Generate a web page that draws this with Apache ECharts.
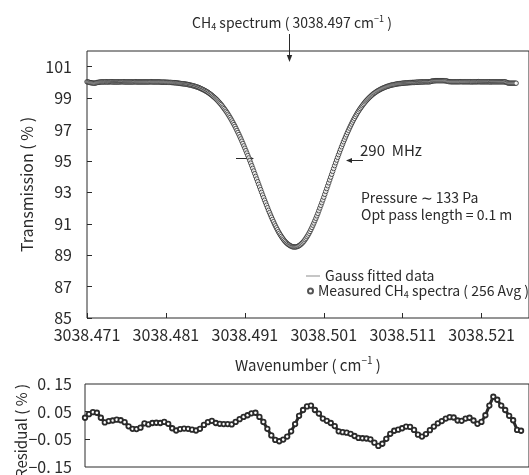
<!DOCTYPE html>
<html>
<head>
<meta charset="utf-8">
<script src="https://cdn.jsdelivr.net/npm/echarts@6/dist/echarts.min.js"></script>
<style>
  html, body { margin: 0; padding: 0; background: #fff; }
  #chart { width: 529px; height: 475px; }
</style>
</head>
<body>
<div id="chart"></div>
<script>
// CH4 absorption line near 3038.497 cm-1: measured transmission, Gaussian fit and fit residual.

// Measured transmission (%) on a 0.000125 cm-1 grid starting at 3038.4710,
// stored as three consecutive stretches: left wing, line core, right wing.
const scanStart = 3038.4710, scanStep = 0.000125;

const leftWingTransmission = [
  100.04, 100.03, 100.01, 99.99, 99.98, 99.97, 99.96, 99.95,
  99.95, 99.97, 99.99, 100.00, 100.01, 100.02, 100.03, 100.03,
  100.03, 100.03, 100.03, 100.04, 100.03, 100.03, 100.03, 100.04,
  100.04, 100.04, 100.03, 100.03, 100.03, 100.03, 100.03, 100.03,
  100.03, 100.03, 100.04, 100.04, 100.04, 100.04, 100.03, 100.03,
  100.03, 100.03, 100.03, 100.03, 100.03, 100.03, 100.03, 100.03,
  100.04, 100.04, 100.03, 100.03, 100.03, 100.03, 100.03, 100.03,
  100.03, 100.03, 100.03, 100.03, 100.03, 100.03, 100.03, 100.03,
  100.04, 100.04, 100.03, 100.03, 100.03, 100.03, 100.03, 100.03,
  100.03, 100.03, 100.03, 100.02, 100.02, 100.02, 100.02, 100.02,
  100.01, 100.01, 100.01, 100.00, 100.00, 100.00, 99.99, 99.99,
  99.98, 99.98, 99.97, 99.97, 99.96, 99.95, 99.94, 99.93
];

const lineCoreTransmission = [
  99.92, 99.915, 99.91, 99.90, 99.89, 99.88, 99.87, 99.855, 99.84, 99.825,
  99.81, 99.795, 99.78, 99.76, 99.74, 99.72, 99.70, 99.675, 99.65, 99.62,
  99.59, 99.56, 99.53, 99.495, 99.46, 99.425, 99.39, 99.345, 99.30, 99.255,
  99.21, 99.155, 99.10, 99.045, 98.99, 98.93, 98.87, 98.80, 98.73, 98.66,
  98.59, 98.505, 98.42, 98.335, 98.25, 98.16, 98.07, 97.97, 97.87, 97.765,
  97.66, 97.545, 97.43, 97.315, 97.20, 97.07, 96.94, 96.81, 96.68, 96.54,
  96.40, 96.255, 96.11, 95.96, 95.81, 95.655, 95.50, 95.345, 95.19, 95.025,
  94.86, 94.695, 94.53, 94.36, 94.19, 94.02, 93.85, 93.68, 93.51, 93.34,
  93.17, 93.00, 92.83, 92.665, 92.50, 92.34, 92.18, 92.02, 91.86, 91.71,
  91.56, 91.415, 91.27, 91.13, 90.99, 90.865, 90.74, 90.62, 90.50, 90.395,
  90.29, 90.195, 90.10, 90.015, 89.93, 89.86, 89.79, 89.735, 89.68, 89.64,
  89.60, 89.57, 89.54, 89.53, 89.52, 89.525, 89.53, 89.55, 89.57, 89.61,
  89.65, 89.705, 89.76, 89.83, 89.90, 89.99, 90.08, 90.18, 90.28, 90.395,
  90.51, 90.64, 90.77, 90.91, 91.05, 91.20, 91.35, 91.505, 91.66, 91.83,
  92.00, 92.17, 92.34, 92.515, 92.69, 92.875, 93.06, 93.24, 93.42, 93.605,
  93.79, 93.97, 94.15, 94.335, 94.52, 94.70, 94.88, 95.055, 95.23, 95.40,
  95.57, 95.735, 95.90, 96.06, 96.22, 96.37, 96.52, 96.665, 96.81, 96.95,
  97.09, 97.22, 97.35, 97.475, 97.60, 97.715, 97.83, 97.94, 98.05, 98.15,
  98.25, 98.34, 98.43, 98.515, 98.60, 98.68, 98.76, 98.83, 98.90, 98.965,
  99.03, 99.09, 99.15, 99.205, 99.26, 99.305, 99.35, 99.395, 99.44, 99.475,
  99.51, 99.545, 99.58, 99.61, 99.64, 99.665, 99.69, 99.715, 99.74, 99.76,
  99.78, 99.80, 99.82, 99.835, 99.85, 99.86, 99.87, 99.885, 99.90, 99.91,
  99.92, 99.925, 99.93, 99.94, 99.95, 99.955, 99.96, 99.965, 99.97, 99.975,
  99.98, 99.985, 99.99
];

const rightWingTransmission = [
  99.99, 100.00, 100.00,
  100.00, 100.01, 100.01, 100.02, 100.02, 100.02, 100.03, 100.03,
  100.03, 100.03, 100.04, 100.04, 100.04, 100.04, 100.04, 100.04,
  100.05, 100.07, 100.09, 100.10, 100.10, 100.11, 100.11, 100.11, 100.11, 100.11,
  100.11, 100.11, 100.11, 100.11, 100.11, 100.10, 100.10, 100.08, 100.06, 100.05,
  100.05, 100.04, 100.04, 100.04, 100.04, 100.04, 100.04, 100.04,
  100.04, 100.04, 100.04, 100.05, 100.04, 100.04, 100.04, 100.04,
  100.04, 100.04, 100.04, 100.04, 100.04, 100.04, 100.03, 100.04,
  100.04, 100.04, 100.04, 100.04, 100.04, 100.05, 100.04, 100.04,
  100.04, 100.04, 100.04, 100.04, 100.04, 100.04, 100.04, 100.04,
  100.04, 100.03, 100.04, 100.04, 100.04, 100.04, 100.04, 100.04,
  100.04, 100.04, 100.04, 100.04, 100.04, 100.04, 100.04, 100.04,
  100.03, 100.01, 99.98, 99.96, 99.95, 99.95, 99.95, 99.95, 99.95, 99.95, 99.95, 99.95
];

// Gaussian fit (%), every 0.001 cm-1 from 3038.471
const fitStart = 3038.471, fitStep = 0.001;
const fitTransmission = [
  100.02, 100.02, 100.02, 100.02, 100.02, 100.02, 100.02, 100.02, 100.01, 100.00,
  99.99, 99.97, 99.92, 99.84, 99.70, 99.46, 99.10, 98.59, 97.87, 96.94,
  95.81, 94.53, 93.17, 91.86, 90.74, 89.93, 89.54, 89.65, 90.28, 91.35,
  92.69, 94.15, 95.57, 96.81, 97.83, 98.60, 99.15, 99.51, 99.74, 99.87,
  99.95, 99.99, 100.01, 100.03, 100.03, 100.03, 100.03, 100.03, 100.03, 100.03,
  100.03, 100.03, 100.03, 100.03, 100.03
];

// Residual of the fit (%), every 0.0005 cm-1 from 3038.471
const residualStart = 3038.471, residualStep = 0.0005;
const residualValues = [
  0.028, 0.041, 0.048, 0.046, 0.028, 0.011, 0.016, 0.018, 0.021, 0.019,
  0.012, -0.003, -0.012, -0.013, -0.008, 0.008, 0.004, 0.009, 0.010, 0.009,
  0.013, 0.006, -0.010, -0.018, -0.013, -0.011, -0.012, -0.015, -0.018, -0.012,
  0.002, 0.012, 0.017, 0.009, 0.006, 0.005, 0.005, 0.004, 0.013, 0.023,
  0.031, 0.037, 0.044, 0.046, 0.031, 0.013, -0.012, -0.036, -0.052, -0.057,
  -0.051, -0.040, -0.021, 0.005, 0.035, 0.056, 0.069, 0.072, 0.056, 0.043,
  0.025, 0.017, 0.009, -0.002, -0.021, -0.024, -0.026, -0.030, -0.038, -0.045,
  -0.046, -0.047, -0.050, -0.062, -0.074, -0.066, -0.048, -0.030, -0.019, -0.015,
  -0.010, -0.004, -0.005, -0.016, -0.033, -0.040, -0.031, -0.017, -0.004, 0.008,
  0.016, 0.025, 0.030, 0.029, 0.018, 0.017, 0.025, 0.028, 0.018, 0.006,
  0.013, 0.037, 0.072, 0.104, 0.093, 0.072, 0.056, 0.035, 0.019, -0.016,
  -0.019
];

// Axis ticks
const wavenumberTicks = [3038.471, 3038.481, 3038.491, 3038.501, 3038.511, 3038.521];
const transmissionTicks = [85, 87, 89, 91, 93, 95, 97, 99, 101];
const residualTicks = [-0.15, -0.05, 0.05, 0.15];

const FONT = '"Noto Sans CJK JP", "Liberation Sans", sans-serif';
const INK = '#2a2a2a';
const FIT_NAME = 'Gauss fitted data';
const MEAS_NAME = 'Measured CH4 spectra ( 256 Avg )';

// pair each sample with its wavenumber on a regular grid
function onGrid(start, step, values) {
  return values.map((v, i) => [+(start + i * step).toFixed(6), v]);
}

const measuredData = onGrid(scanStart, scanStep,
  leftWingTransmission.concat(lineCoreTransmission, rightWingTransmission));
const fitData = onGrid(fitStart, fitStep, fitTransmission);
const residualData = onGrid(residualStart, residualStep, residualValues);

const textBase = { color: INK, fontFamily: FONT };

function richToken(size, pad) {
  return { fontSize: size, fontFamily: FONT, fill: INK, color: INK, padding: pad || [0, 0, 0, 0] };
}

const chart = echarts.init(document.getElementById('chart'), null, { renderer: 'canvas' });

chart.setOption({
  backgroundColor: '#fff',
  animation: false,
  grid: [
    { left: 87, top: 51, width: 452, height: 267, show: true, borderColor: INK, borderWidth: 1, backgroundColor: 'transparent' },
    { left: 85, top: 384, width: 452, height: 86, show: true, borderColor: INK, borderWidth: 1, backgroundColor: 'transparent' }
  ],
  xAxis: [
    {
      type: 'value', gridIndex: 0, min: 3038.471, max: 3038.527,
      axisLine: { show: false },
      splitLine: { show: false },
      axisTick: { show: true, inside: true, length: 5, customValues: wavenumberTicks, lineStyle: { color: INK } },
      axisLabel: {
        customValues: wavenumberTicks, margin: 9, fontSize: 16, ...textBase,
        formatter: v => v.toFixed(3)
      }
    },
    {
      type: 'value', gridIndex: 1, min: 3038.471, max: 3038.527,
      axisLine: { show: false }, splitLine: { show: false },
      axisTick: { show: false }, axisLabel: { show: false }
    }
  ],
  yAxis: [
    {
      type: 'value', gridIndex: 0, min: 85, max: 102,
      axisLine: { show: false }, splitLine: { show: false },
      axisTick: { show: true, inside: true, length: 5, customValues: transmissionTicks, lineStyle: { color: INK } },
      axisLabel: { customValues: transmissionTicks, margin: 15, fontSize: 16, ...textBase },
      name: 'Transmission ( % )', nameLocation: 'middle', nameGap: 48,
      nameTextStyle: { fontSize: 16, ...textBase }
    },
    {
      type: 'value', gridIndex: 1, min: -0.15, max: 0.15,
      axisLine: { show: false }, splitLine: { show: false },
      axisTick: { show: true, inside: true, length: 5, customValues: [-0.05, 0.05], lineStyle: { color: INK } },
      axisLabel: {
        customValues: residualTicks, margin: 13, fontSize: 16, ...textBase,
        formatter: v => (v < 0 ? '\u2212' : '') + Math.abs(v).toFixed(2).replace('.', '. ')
      }
    }
  ],
  legend: [
    {
      data: [{ name: FIT_NAME, icon: 'rect' }], left: 306, top: 268, orient: 'vertical', padding: 0,
      itemWidth: 14, itemHeight: 1, selectedMode: false,
      textStyle: { fontSize: 14, lineHeight: 16, ...textBase }
    },
    {
      data: [MEAS_NAME], left: 307, top: 283, orient: 'vertical', padding: 0,
      itemWidth: 5, itemHeight: 5, selectedMode: false,
      formatter: () => '{t|Measured CH}{s|4}{t| spectra ( 256 Avg )}',
      textStyle: {
        fontSize: 14, lineHeight: 16, ...textBase,
        rich: {
          t: { fontSize: 14, fontFamily: FONT, color: INK },
          s: { fontSize: 9, fontFamily: FONT, color: INK, padding: [7, 0, 0, 0] }
        }
      }
    }
  ],
  series: [
    {
      name: FIT_NAME, type: 'line', xAxisIndex: 0, yAxisIndex: 0,
      data: fitData, smooth: 0.4, symbol: 'none', showSymbol: false,
      lineStyle: { color: '#8c8c8c', width: 1 }, itemStyle: { color: '#8c8c8c' },
      z: 2
    },
    {
      name: MEAS_NAME, type: 'scatter', xAxisIndex: 0, yAxisIndex: 0,
      data: measuredData, symbol: 'circle', symbolSize: 4.5,
      itemStyle: { color: '#fff', borderColor: INK, borderWidth: 1 },
      z: 3
    },
    {
      name: 'Residual', type: 'line', xAxisIndex: 1, yAxisIndex: 1,
      data: residualData, symbol: 'circle', symbolSize: 4.5, showSymbol: true, showAllSymbol: true,
      lineStyle: { color: INK, width: 3 },
      itemStyle: { color: '#fff', borderColor: INK, borderWidth: 1.8 },
      z: 3
    }
  ],
  graphic: [
    // title and arrow to the line centre
    {
      type: 'text', x: 292, y: 23,
      style: {
        text: '{a|CH}{b|4}{a| spectrum ( 3038.497 cm}{c|\u22121}{a| )}',
        align: 'center', verticalAlign: 'middle',
        rich: { a: richToken(14), b: richToken(9, [7, 0, 0, 0]), c: richToken(9, [0, 0, 9, 0]) }
      }
    },
    { type: 'line', shape: { x1: 289.5, y1: 34, x2: 289.5, y2: 57 }, style: { stroke: INK, lineWidth: 1 } },
    { type: 'polygon', shape: { points: [[289.5, 62], [286.8, 55], [292.2, 55]] }, style: { fill: INK } },
    // FWHM markers
    { type: 'line', shape: { x1: 236, y1: 158.5, x2: 250, y2: 158.5 }, style: { stroke: INK, lineWidth: 1 } },
    { type: 'polygon', shape: { points: [[254, 158.5], [248, 156], [248, 161]] }, style: { fill: INK } },
    { type: 'line', shape: { x1: 363, y1: 160.5, x2: 350, y2: 160.5 }, style: { stroke: INK, lineWidth: 1 } },
    { type: 'polygon', shape: { points: [[346, 160.5], [352, 158], [352, 163]] }, style: { fill: INK } },
    {
      type: 'text', x: 360, y: 150,
      style: { text: '290  MHz', fill: INK, font: '15px ' + FONT, align: 'left', verticalAlign: 'middle' }
    },
    {
      type: 'text', x: 361, y: 198,
      style: { text: 'Pressure \u223C 133 Pa', fill: INK, font: '14px ' + FONT, align: 'left', verticalAlign: 'middle' }
    },
    {
      type: 'text', x: 361, y: 215,
      style: { text: 'Opt pass length = 0.1 m', fill: INK, font: '14px ' + FONT, align: 'left', verticalAlign: 'middle' }
    },
    // x-axis title
    {
      type: 'text', x: 308, y: 365,
      style: {
        text: '{a|Wavenumber ( cm}{c|\u22121}{a| )}',
        align: 'center', verticalAlign: 'middle',
        rich: { a: richToken(15), c: richToken(10, [0, 0, 9, 0]) }
      }
    },
    // residual axis title
    {
      type: 'text', x: 21, y: 431, rotation: Math.PI / 2,
      style: { text: 'Residual ( % )', fill: INK, font: '15px ' + FONT, align: 'center', verticalAlign: 'middle' }
    }
  ]
});
</script>
</body>
</html>
